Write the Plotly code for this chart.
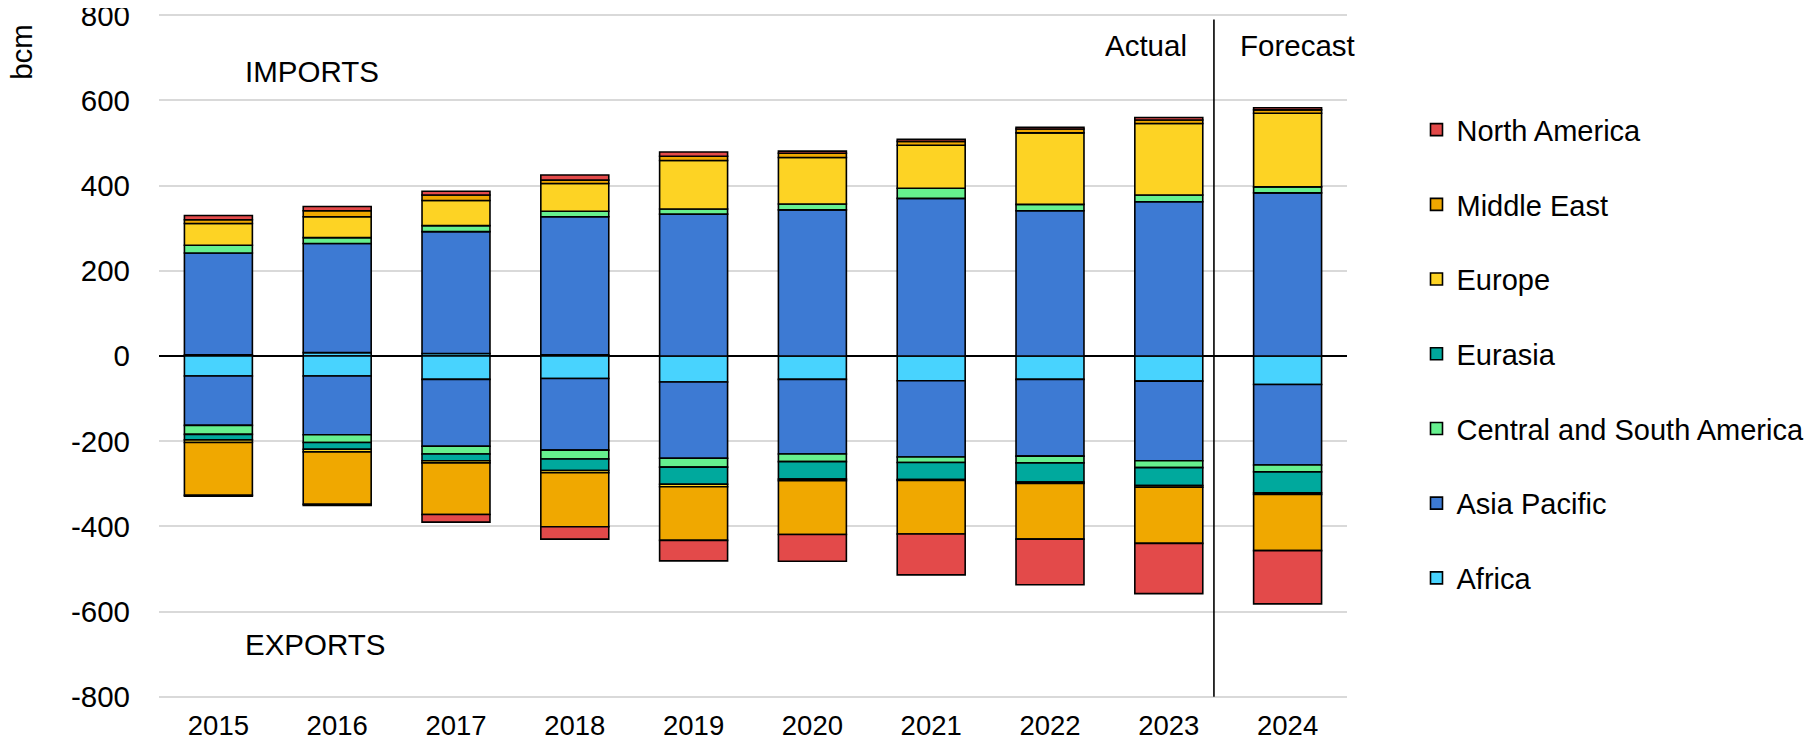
import plotly.graph_objects as go

years = ["2015", "2016", "2017", "2018", "2019", "2020", "2021", "2022", "2023", "2024"]
regions = ["Africa", "Asia Pacific", "Central and South America", "Eurasia",
           "Europe", "Middle East", "North America"]
colors = ["#48D3FE", "#3D7AD3", "#66F08E", "#00A99D", "#FDD324", "#F0A800", "#E34A4A"]

# Imports (positive, bcm)
imp_africa = [3, 8, 6, 3, None, None, None, None, None, None]
imp_asia_pacific = [239, 256, 286, 324, 333, 343, 370, 341, 362, 383]
imp_csa = [18, 14, 14, 13, 12, 14, 24, 15, 16, 14]
imp_eurasia = [None] * 10
imp_europe = [51, 49, 59, 65, 114, 109, 101, 168, 168, 173]
imp_middle_east = [9, 14, 13, 8, 10, 10, 9, 9, 8, 8]
imp_north_america = [10, 10, 9, 12, 10, 5, 5, 4, 6, 5]

# Exports (shown as negative, bcm)
exp_africa = [-47, -47, -55, -53, -61, -55, -58, -55, -59, -67]
exp_asia_pacific = [-116, -138, -157, -168, -179, -175, -179, -180, -187, -189]
exp_csa = [-21, -18, -18, -21, -21, -18, -13, -16, -16, -16]
exp_eurasia = [-13, -16, -16, -27, -40, -41, -40, -45, -42, -49]
exp_europe = [-6, -6, -5, -5, -6, -4, -2, -3, -4, -4]
exp_middle_east = [-124, -123, -121, -127, -126, -126, -126, -131, -132, -132]
exp_north_america = [-2, -3, -18, -29, -48, -63, -96, -107, -118, -125]

imports = [imp_africa, imp_asia_pacific, imp_csa, imp_eurasia, imp_europe,
           imp_middle_east, imp_north_america]
exports = [exp_africa, exp_asia_pacific, exp_csa, exp_eurasia, exp_europe,
           exp_middle_east, exp_north_america]

y_ticks = [-800, -600, -400, -200, 0, 200, 400, 600, 800]
y_tick_text = ["-800", "-600", "-400", "-200", "0", "200", "400", "600", "800"]

FONT = "Liberation Sans, Arial, sans-serif"

fig = go.Figure()
n = len(regions)
for i, (name, col, imp, exp) in enumerate(zip(regions, colors, imports, exports)):
    rank = n - i
    fig.add_trace(go.Bar(x=years, y=imp, name=name, legendgroup=name, legendrank=rank,
                         marker=dict(color=col, line=dict(color="black", width=1.6)),
                         showlegend=True))
    fig.add_trace(go.Bar(x=years, y=exp, name=name, legendgroup=name, legendrank=rank,
                         marker=dict(color=col, line=dict(color="black", width=1.6)),
                         showlegend=False))

fig.update_layout(
    width=1804, height=735,
    barmode="relative", bargap=0.428,
    plot_bgcolor="white", paper_bgcolor="white",
    margin=dict(l=151, r=464.5, t=5.7, b=44.7, autoexpand=False),
    font=dict(family=FONT, size=28, color="black"),
    showlegend=True,
    legend=dict(x=1.0585, xanchor="left", y=0.868, yanchor="top",
                traceorder="grouped", tracegroupgap=34,
                font=dict(size=29, family=FONT), bgcolor="rgba(0,0,0,0)",
                borderwidth=0),
    xaxis=dict(type="category", showgrid=False, showline=False, ticks="",
               automargin=False, tickfont=dict(size=27.5), ticklabelstandoff=8),
    yaxis=dict(range=[-803, 803], tickvals=y_ticks, ticktext=y_tick_text,
               showgrid=True, automargin=False, ticklabeloverflow="allow",
               gridcolor="#D9D9D9", gridwidth=1.5, zeroline=True,
               zerolinecolor="black", zerolinewidth=2, showline=False,
               ticks="", tickfont=dict(size=29.5), ticklabelstandoff=28),
)

# Actual / Forecast divider
fig.add_shape(type="line", xref="x", yref="y", x0=8.38, x1=8.38, y0=-800, y1=790,
              line=dict(color="black", width=1.6))

ann = dict(showarrow=False, font=dict(size=29.5, family=FONT, color="black"))
fig.add_annotation(text="bcm", xref="paper", yref="paper", x=-0.116, y=0.945,
                   textangle=-90, xanchor="center", yanchor="middle", **ann)
fig.add_annotation(text="IMPORTS", xref="paper", yref="paper", x=0.0705, y=0.916,
                   xanchor="left", yanchor="middle", **ann)
fig.add_annotation(text="EXPORTS", xref="paper", yref="paper", x=0.0705, y=0.078,
                   xanchor="left", yanchor="middle", **ann)
fig.add_annotation(text="Actual", xref="paper", yref="paper", x=0.831, y=0.9535,
                   xanchor="center", yanchor="middle", **ann)
fig.add_annotation(text="Forecast", xref="paper", yref="paper", x=0.958, y=0.9535,
                   xanchor="center", yanchor="middle", **ann)

fig.write_html("out.html")
